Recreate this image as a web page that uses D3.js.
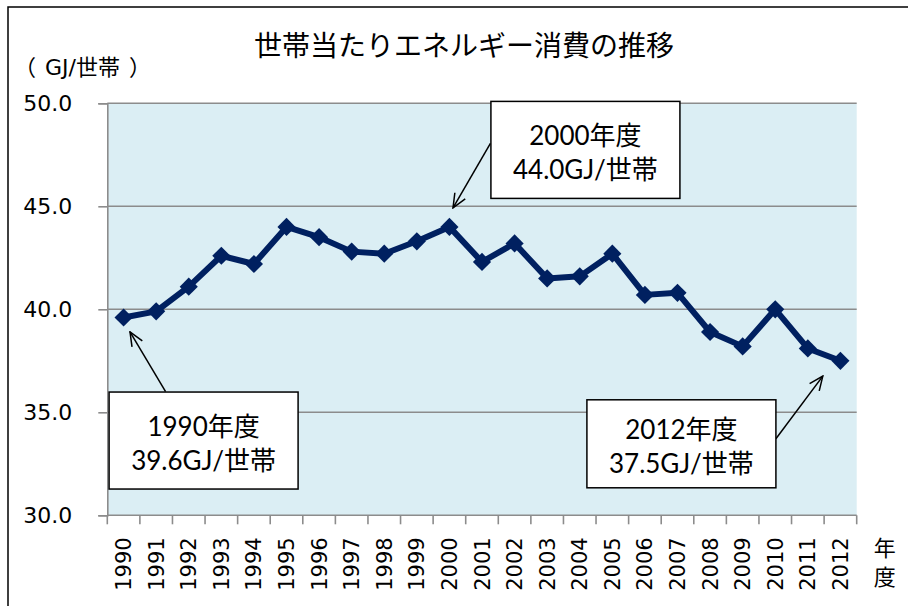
<!DOCTYPE html>
<html>
<head>
<meta charset="utf-8">
<script src="https://cdn.jsdelivr.net/npm/d3@7"></script>
<style>
  body { margin: 0; background: #fff; }
  svg { display: block; }
</style>
</head>
<body>
<svg id="chart" width="908" height="606"></svg>
<script>
// data (GJ per household, fiscal years)
const years = ['1990', '1991', '1992', '1993', '1994', '1995', '1996', '1997', '1998', '1999', '2000',
  '2001', '2002', '2003', '2004', '2005', '2006', '2007', '2008', '2009', '2010', '2011', '2012']
const values = [39.6, 39.9, 41.1, 42.6, 42.2, 44.0, 43.5, 42.8, 42.7, 43.3, 44.0,
  42.3, 43.2, 41.5, 41.6, 42.7, 40.7, 40.8, 38.9, 38.2, 40.0, 38.1, 37.5]
const yTicks = [30, 35, 40, 45, 50]
const noteYears = ['1990', '2000', '2012']

const title = '世帯当たりエネルギー消費の推移'
const unitLabel = ['（', 'GJ/', '世帯', '）']
const xUnit = ['年', '度']

const svg = d3.select('#chart')
const svgWidth = 908
const svgHeight = 606
const margin = { top: 103.3, right: 51.3, bottom: 90.7, left: 107.3 }
const width = svgWidth - margin.left - margin.right
const height = svgHeight - margin.top - margin.bottom

// outer frame (runs off the right/bottom edge in the reference)
svg.append('rect')
  .attr('x', 8).attr('y', 7)
  .attr('width', 1000).attr('height', 1000)
  .attr('fill', 'none')
  .attr('stroke', '#000')
  .attr('stroke-width', 1.5)

svg.append('text')
  .attr('x', 464).attr('y', 56)
  .attr('text-anchor', 'middle')
  .attr('font-family', '"Noto Sans CJK JP", sans-serif')
  .attr('font-size', 28)
  .text(title)

// unit label: wide brackets spaced out like the full-width ones in the reference
const unitGap = [0, 9, 0, 9]
svg.append('text')
  .attr('x', 14).attr('y', 75)
  .attr('font-size', 22)
  .selectAll('tspan')
  .data(unitLabel)
  .enter().append('tspan')
  .attr('dx', (d, i) => unitGap[i])
  .attr('font-family', (d, i) => i === 1 ? '"DejaVu Sans", sans-serif' : '"Noto Sans CJK JP", sans-serif')
  .text(d => d)

const g = svg.append('g').attr('transform', `translate(${margin.left},${margin.top})`)

const x = d3.scaleBand().domain(years).range([0, width])
const y = d3.scaleLinear().domain([30, 50]).range([height, 0])
const cx = d => x(d) + x.bandwidth() / 2

g.append('rect')
  .attr('width', width).attr('height', height)
  .attr('fill', '#DBEEF4')

// gridlines
g.append('g')
  .selectAll('line')
  .data(yTicks.slice(1))
  .enter().append('line')
  .attr('x1', 0).attr('x2', width)
  .attr('y1', d => y(d)).attr('y2', d => y(d))
  .attr('stroke', '#8c8c8c')
  .attr('stroke-width', 1.6)

// y axis
const yAxis = g.append('g')
  .call(d3.axisLeft(y).tickValues(yTicks).tickSize(9).tickPadding(26).tickFormat(d3.format('.1f')))
yAxis.select('.domain').attr('stroke', '#8c8c8c').attr('stroke-width', 1.6)
yAxis.selectAll('.tick line').attr('stroke', '#8c8c8c').attr('stroke-width', 1.6)
yAxis.selectAll('.tick text')
  .attr('font-family', '"DejaVu Sans", sans-serif')
  .attr('font-size', 22)
  .attr('fill', '#000')

// x axis: ticks on category boundaries, labels rotated
const xAxis = g.append('g').attr('transform', `translate(0,${height})`)
xAxis.append('line')
  .attr('x1', 0).attr('x2', width)
  .attr('stroke', '#8c8c8c').attr('stroke-width', 1.6)
const bounds = years.map(d => x(d)).concat([x.range()[1]])
xAxis.selectAll('line.tk')
  .data(bounds)
  .enter().append('line')
  .attr('class', 'tk')
  .attr('x1', d => d).attr('x2', d => d)
  .attr('y1', 0).attr('y2', 9)
  .attr('stroke', '#8c8c8c').attr('stroke-width', 1.6)
xAxis.selectAll('text')
  .data(years)
  .enter().append('text')
  .attr('transform', d => `translate(${cx(d)},22) rotate(-90)`)
  .attr('text-anchor', 'end')
  .attr('dy', '0.36em')
  .attr('font-family', '"DejaVu Sans", sans-serif')
  .attr('font-size', 21)
  .text(d => d)

xAxis.selectAll('text.unit')
  .data(xUnit)
  .enter().append('text')
  .attr('class', 'unit')
  .attr('x', width + 28)
  .attr('y', (d, i) => 41 + i * 29)
  .attr('text-anchor', 'middle')
  .attr('font-family', '"Noto Sans CJK JP", sans-serif')
  .attr('font-size', 22)
  .text(d => d)

// series
const points = years.map((d, i) => ({ year: d, value: values[i] }))

g.append('path')
  .datum(points)
  .attr('fill', 'none')
  .attr('stroke', '#002060')
  .attr('stroke-width', 6)
  .attr('stroke-linejoin', 'round')
  .attr('d', d3.line().x(d => cx(d.year)).y(d => y(d.value)))

g.selectAll('path.mk')
  .data(points)
  .enter().append('path')
  .attr('class', 'mk')
  .attr('transform', d => `translate(${cx(d.year)},${y(d.value)}) rotate(45)`)
  .attr('d', d3.symbol(d3.symbolSquare, 165))
  .attr('fill', '#002060')

// callouts: box offset from the point, arrow from box to near the point
const calloutLayout = {
  '1990': { bx: 80, by: 123, w: 189, h: 97, from: [-38, -49], tip: [6.4, 14.3] },
  '2000': { bx: 136, by: -77, w: 189, h: 97, from: [-95, -6.5], tip: [3.6, -19] },
  '2012': { bx: -159, by: 83, w: 189, h: 88, from: [94.5, -5], tip: [-17.6, 15.3] }
}

g.append('defs').append('marker')
  .attr('id', 'arrow')
  .attr('viewBox', '0 0 16 16')
  .attr('refX', 15).attr('refY', 8)
  .attr('markerWidth', 16).attr('markerHeight', 16)
  .attr('markerUnits', 'userSpaceOnUse')
  .attr('orient', 'auto')
  .append('path')
  .attr('d', 'M1,2 L15,8 L1,14')
  .attr('fill', 'none')
  .attr('stroke', '#000')
  .attr('stroke-width', 1.5)

const notes = g.selectAll('g.note')
  .data(points.filter(d => noteYears.includes(d.year)))
  .enter().append('g')
  .attr('class', 'note')
  .attr('transform', d => {
    const c = calloutLayout[d.year]
    return `translate(${cx(d.year) + c.bx},${y(d.value) + c.by})`
  })

notes.append('line')
  .attr('x1', d => calloutLayout[d.year].from[0])
  .attr('y1', d => calloutLayout[d.year].from[1])
  .attr('x2', d => calloutLayout[d.year].tip[0] - calloutLayout[d.year].bx)
  .attr('y2', d => calloutLayout[d.year].tip[1] - calloutLayout[d.year].by)
  .attr('stroke', '#000')
  .attr('stroke-width', 1.5)
  .attr('marker-end', 'url(#arrow)')

notes.append('rect')
  .attr('x', d => -calloutLayout[d.year].w / 2)
  .attr('y', d => -calloutLayout[d.year].h / 2)
  .attr('width', d => calloutLayout[d.year].w)
  .attr('height', d => calloutLayout[d.year].h)
  .attr('fill', '#fff')
  .attr('stroke', '#000')
  .attr('stroke-width', 1.5)

notes.append('text')
  .attr('text-anchor', 'middle')
  .attr('font-family', 'Lato, "Noto Sans CJK JP", sans-serif')
  .attr('font-size', 26)
  .selectAll('tspan')
  .data(d => [`${d.year}年度`, `${d.value.toFixed(1)}GJ/世帯`])
  .enter().append('tspan')
  .attr('x', 0)
  .attr('y', (d, i) => i === 0 ? -5 : 29)
  .text(d => d)
</script>
</body>
</html>
